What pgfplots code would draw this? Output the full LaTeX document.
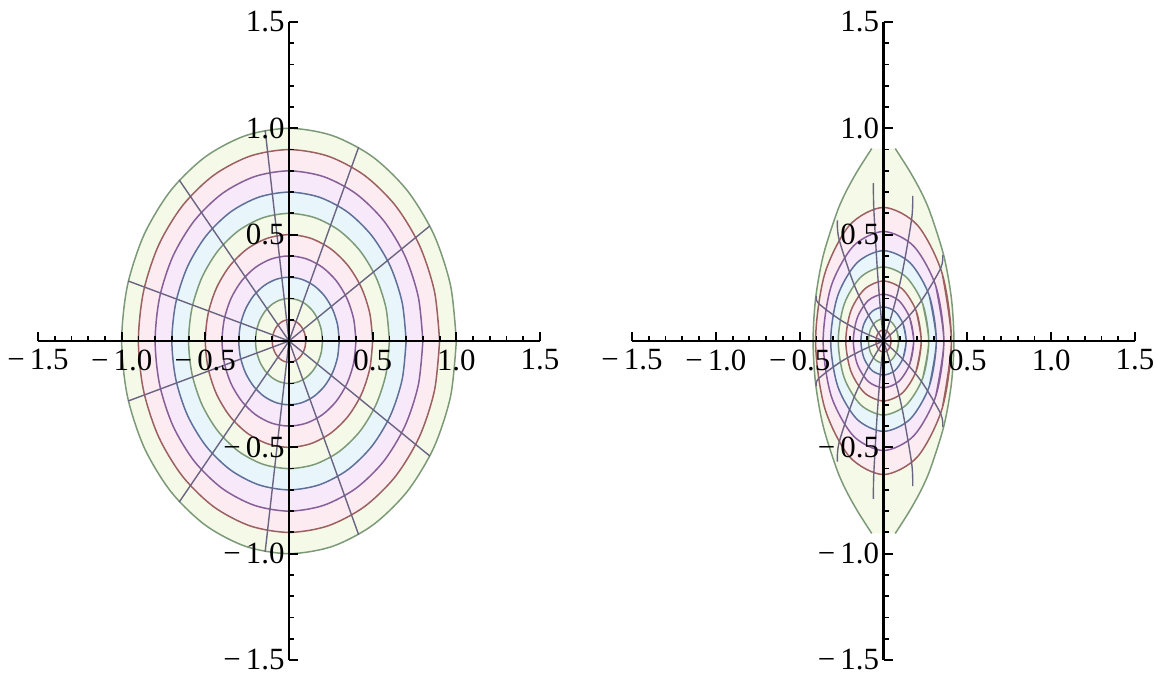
\documentclass[border=0pt]{standalone}
\usepackage{fontspec}
\setmainfont{Liberation Serif}
\usepackage{pgfplots}
\usepackage{pgfplotstable}
\pgfplotsset{compat=1.18}

% ring colours (line / pale fill)
\definecolor{lnG}{RGB}{124,154,120}
\definecolor{lnB}{RGB}{156,96,96}
\definecolor{lnP}{RGB}{134,94,152}
\definecolor{lnU}{RGB}{94,112,152}
\definecolor{fG}{RGB}{245,250,232}
\definecolor{fB}{RGB}{252,236,242}
\definecolor{fP}{RGB}{248,233,250}
\definecolor{fU}{RGB}{232,246,252}
\definecolor{spoke}{RGB}{106,100,130}

% circles r = 0.1 ... 1.0, angle in degrees (polar data)
\pgfplotstableread{
a   r1  r2  r3  r4  r5  r6  r7  r8  r9  r10
0   0.1 0.2 0.3 0.4 0.5 0.6 0.7 0.8 0.9 1.0
15  0.1 0.2 0.3 0.4 0.5 0.6 0.7 0.8 0.9 1.0
30  0.1 0.2 0.3 0.4 0.5 0.6 0.7 0.8 0.9 1.0
45  0.1 0.2 0.3 0.4 0.5 0.6 0.7 0.8 0.9 1.0
60  0.1 0.2 0.3 0.4 0.5 0.6 0.7 0.8 0.9 1.0
75  0.1 0.2 0.3 0.4 0.5 0.6 0.7 0.8 0.9 1.0
90  0.1 0.2 0.3 0.4 0.5 0.6 0.7 0.8 0.9 1.0
105 0.1 0.2 0.3 0.4 0.5 0.6 0.7 0.8 0.9 1.0
120 0.1 0.2 0.3 0.4 0.5 0.6 0.7 0.8 0.9 1.0
135 0.1 0.2 0.3 0.4 0.5 0.6 0.7 0.8 0.9 1.0
150 0.1 0.2 0.3 0.4 0.5 0.6 0.7 0.8 0.9 1.0
165 0.1 0.2 0.3 0.4 0.5 0.6 0.7 0.8 0.9 1.0
180 0.1 0.2 0.3 0.4 0.5 0.6 0.7 0.8 0.9 1.0
195 0.1 0.2 0.3 0.4 0.5 0.6 0.7 0.8 0.9 1.0
210 0.1 0.2 0.3 0.4 0.5 0.6 0.7 0.8 0.9 1.0
225 0.1 0.2 0.3 0.4 0.5 0.6 0.7 0.8 0.9 1.0
240 0.1 0.2 0.3 0.4 0.5 0.6 0.7 0.8 0.9 1.0
255 0.1 0.2 0.3 0.4 0.5 0.6 0.7 0.8 0.9 1.0
270 0.1 0.2 0.3 0.4 0.5 0.6 0.7 0.8 0.9 1.0
285 0.1 0.2 0.3 0.4 0.5 0.6 0.7 0.8 0.9 1.0
300 0.1 0.2 0.3 0.4 0.5 0.6 0.7 0.8 0.9 1.0
315 0.1 0.2 0.3 0.4 0.5 0.6 0.7 0.8 0.9 1.0
330 0.1 0.2 0.3 0.4 0.5 0.6 0.7 0.8 0.9 1.0
345 0.1 0.2 0.3 0.4 0.5 0.6 0.7 0.8 0.9 1.0
360 0.1 0.2 0.3 0.4 0.5 0.6 0.7 0.8 0.9 1.0
}\circles

\pgfplotsset{
  mathaxis/.style={
    scale only axis, width=502bp, height=638bp, anchor=south west,
    xmin=-1.5, xmax=1.5, ymin=-1.5, ymax=1.5,
    axis lines=middle,
    axis line style={-, line width=2.6bp, black},
    axis on top,
    tick align=inside,
    xtick={-1.5,-1,-0.5,0.5,1,1.5},
    ytick={-1.5,-1,-0.5,0.5,1,1.5},
    xticklabels={−\,1.5,−\,1.0,−\,0.5,0.5,1.0,1.5},
    yticklabels={−\,1.5,−\,1.0,−\,0.5,0.5,1.0,1.5},
    minor xtick={-1.4,-1.3,-1.2,-1.1,-0.9,-0.8,-0.7,-0.6,-0.4,-0.3,-0.2,-0.1,0.1,0.2,0.3,0.4,0.6,0.7,0.8,0.9,1.1,1.2,1.3,1.4},
    minor ytick={-1.4,-1.3,-1.2,-1.1,-0.9,-0.8,-0.7,-0.6,-0.4,-0.3,-0.2,-0.1,0.1,0.2,0.3,0.4,0.6,0.7,0.8,0.9,1.1,1.2,1.3,1.4},
    major tick length=9bp, minor tick length=5bp,
    every tick/.style={black, line width=1.8bp},
    tick label style={font=\fontsize{31}{31}\selectfont, black},
    xticklabel style={yshift=-5bp},
    yticklabel style={xshift=-1bp},
  },
  ring/.style={line width=1.5bp, smooth, line join=round},
}

\begin{document}
\begin{tikzpicture}
\path[use as bounding box] (0,0) rectangle (1158bp,682bp);

% ---------- left: polar grid in the unit disc ----------
\begin{axis}[mathaxis, at={(38bp,22bp)}]
\addplot[ring, draw=lnG, fill=fG, data cs=polar] table[x=a, y=r10] {\circles};
\addplot[ring, draw=lnB, fill=fB, data cs=polar] table[x=a, y=r9] {\circles};
\addplot[ring, draw=lnP, fill=fP, data cs=polar] table[x=a, y=r8] {\circles};
\addplot[ring, draw=lnU, fill=fU, data cs=polar] table[x=a, y=r7] {\circles};
\addplot[ring, draw=lnG, fill=fG, data cs=polar] table[x=a, y=r6] {\circles};
\addplot[ring, draw=lnB, fill=fB, data cs=polar] table[x=a, y=r5] {\circles};
\addplot[ring, draw=lnP, fill=fP, data cs=polar] table[x=a, y=r4] {\circles};
\addplot[ring, draw=lnU, fill=fU, data cs=polar] table[x=a, y=r3] {\circles};
\addplot[ring, draw=lnG, fill=fG, data cs=polar] table[x=a, y=r2] {\circles};
\addplot[ring, draw=lnB, fill=fB, data cs=polar] table[x=a, y=r1] {\circles};
% spokes
\addplot[spoke, line width=1.4bp, line join=round, data cs=polar] coordinates {
  (0,0) (0,1) (0,0) (32.73,1) (0,0) (65.45,1) (0,0) (98.18,1) (0,0) (130.91,1)
  (0,0) (163.64,1) (0,0) (196.36,1) (0,0) (229.09,1) (0,0) (261.82,1)
  (0,0) (294.55,1) (0,0) (327.27,1) (0,0)
};
\end{axis}

% ---------- right: image of the grid ----------
\begin{axis}[mathaxis, at={(632bp,22bp)}, width=503bp]
% lens (image of r = 1)
\addplot[draw=none, fill=fG] coordinates {
  (-0.07,0.905) (-0.155,0.8) (-0.225,0.7) (-0.28,0.6) (-0.36,0.4) (-0.405,0.2) (-0.42,0)
  (-0.405,-0.2) (-0.36,-0.4) (-0.28,-0.6) (-0.225,-0.7) (-0.155,-0.8) (-0.07,-0.905)
  (0.07,-0.905) (0.155,-0.8) (0.225,-0.7) (0.28,-0.6) (0.36,-0.4) (0.405,-0.2) (0.42,0)
  (0.405,0.2) (0.36,0.4) (0.28,0.6) (0.225,0.7) (0.155,0.8) (0.07,0.905)
};
\addplot[ring, draw=lnG] coordinates {
  (-0.07,0.905) (-0.155,0.8) (-0.225,0.7) (-0.28,0.6) (-0.36,0.4) (-0.405,0.2) (-0.42,0)
  (-0.405,-0.2) (-0.36,-0.4) (-0.28,-0.6) (-0.225,-0.7) (-0.155,-0.8) (-0.07,-0.905)
};
\addplot[ring, draw=lnG] coordinates {
  (0.07,-0.905) (0.155,-0.8) (0.225,-0.7) (0.28,-0.6) (0.36,-0.4) (0.405,-0.2) (0.42,0)
  (0.405,0.2) (0.36,0.4) (0.28,0.6) (0.225,0.7) (0.155,0.8) (0.07,0.905)
};
% r = 0.9
\addplot[ring, draw=lnB, fill=fB] coordinates {
  (0.351,-0.314) (0.405,0) (0.351,0.314) (0.203,0.544) (0,0.628) (-0.203,0.544) (-0.351,0.314) (-0.405,0)
  (-0.351,-0.314) (-0.203,-0.544) (0,-0.628) (0.203,-0.544) (0.351,-0.314) (0.405,0) (0.351,0.314)
};
% r = 0.8
\addplot[ring, draw=lnP, fill=fP] coordinates {
  (0.312,-0.258) (0.36,0) (0.312,0.258) (0.18,0.446) (0,0.515) (-0.18,0.446) (-0.312,0.258) (-0.36,0)
  (-0.312,-0.258) (-0.18,-0.446) (0,-0.515) (0.18,-0.446) (0.312,-0.258) (0.36,0) (0.312,0.258)
};
% r = 0.7
\addplot[ring, draw=lnU, fill=fU] coordinates {
  (0.273,-0.213) (0.315,0) (0.273,0.213) (0.158,0.368) (0,0.425) (-0.158,0.368) (-0.273,0.213) (-0.315,0)
  (-0.273,-0.213) (-0.158,-0.368) (0,-0.425) (0.158,-0.368) (0.273,-0.213) (0.315,0) (0.273,0.213)
};
% r = 0.6
\addplot[ring, draw=lnG, fill=fG] coordinates {
  (0.234,-0.174) (0.27,0) (0.234,0.174) (0.135,0.301) (0,0.348) (-0.135,0.301) (-0.234,0.174) (-0.27,0)
  (-0.234,-0.174) (-0.135,-0.301) (0,-0.348) (0.135,-0.301) (0.234,-0.174) (0.27,0) (0.234,0.174)
};
% r = 0.5
\addplot[ring, draw=lnB, fill=fB] coordinates {
  (0.195,-0.141) (0.225,0) (0.195,0.141) (0.113,0.244) (0,0.282) (-0.113,0.244) (-0.195,0.141) (-0.225,0)
  (-0.195,-0.141) (-0.113,-0.244) (0,-0.282) (0.113,-0.244) (0.195,-0.141) (0.225,0) (0.195,0.141)
};
% r = 0.4
\addplot[ring, draw=lnP, fill=fP] coordinates {
  (0.156,-0.11) (0.18,0) (0.156,0.11) (0.09,0.191) (0,0.22) (-0.09,0.191) (-0.156,0.11) (-0.18,0)
  (-0.156,-0.11) (-0.09,-0.191) (0,-0.22) (0.09,-0.191) (0.156,-0.11) (0.18,0) (0.156,0.11)
};
% r = 0.3
\addplot[ring, draw=lnU, fill=fU] coordinates {
  (0.117,-0.08) (0.135,0) (0.117,0.08) (0.068,0.139) (0,0.16) (-0.068,0.139) (-0.117,0.08) (-0.135,0)
  (-0.117,-0.08) (-0.068,-0.139) (0,-0.16) (0.068,-0.139) (0.117,-0.08) (0.135,0) (0.117,0.08)
};
% r = 0.2
\addplot[ring, draw=lnG, fill=fG] coordinates {
  (0.078,-0.053) (0.09,0) (0.078,0.053) (0.045,0.091) (0,0.105) (-0.045,0.091) (-0.078,0.053) (-0.09,0)
  (-0.078,-0.053) (-0.045,-0.091) (0,-0.105) (0.045,-0.091) (0.078,-0.053) (0.09,0) (0.078,0.053)
};
% r = 0.1
\addplot[ring, draw=lnB, fill=fB] coordinates {
  (0.039,-0.026) (0.045,0) (0.039,0.026) (0.023,0.045) (0,0.052) (-0.023,0.045) (-0.039,0.026) (-0.045,0)
  (-0.039,-0.026) (-0.023,-0.045) (0,-0.052) (0.023,-0.045) (0.039,-0.026) (0.045,0) (0.039,0.026)
};
% images of the spokes
\addplot[ring, draw=spoke, line width=1.4bp] coordinates {(0,0) (0.114,0.085) (0.227,0.191) (0.341,0.342) (0.353,0.405)};
\addplot[ring, draw=spoke, line width=1.4bp] coordinates {(0,0) (0.056,0.143) (0.112,0.322) (0.168,0.575) (0.174,0.682)};
\addplot[ring, draw=spoke, line width=1.4bp] coordinates {(0,0) (-0.019,0.155) (-0.038,0.350) (-0.058,0.626) (-0.060,0.742)};
\addplot[ring, draw=spoke, line width=1.4bp] coordinates {(0,0) (-0.088,0.119) (-0.177,0.268) (-0.265,0.478) (-0.275,0.567)};
\addplot[ring, draw=spoke, line width=1.4bp] coordinates {(0,0) (-0.130,0.044) (-0.259,0.100) (-0.389,0.178) (-0.400,0.211)};
\addplot[ring, draw=spoke, line width=1.4bp] coordinates {(0,0) (-0.130,-0.044) (-0.259,-0.100) (-0.389,-0.178) (-0.400,-0.211)};
\addplot[ring, draw=spoke, line width=1.4bp] coordinates {(0,0) (-0.088,-0.119) (-0.177,-0.268) (-0.265,-0.478) (-0.275,-0.567)};
\addplot[ring, draw=spoke, line width=1.4bp] coordinates {(0,0) (-0.019,-0.155) (-0.038,-0.350) (-0.058,-0.626) (-0.060,-0.742)};
\addplot[ring, draw=spoke, line width=1.4bp] coordinates {(0,0) (0.056,-0.143) (0.112,-0.322) (0.168,-0.575) (0.174,-0.682)};
\addplot[ring, draw=spoke, line width=1.4bp] coordinates {(0,0) (0.114,-0.085) (0.227,-0.191) (0.341,-0.342) (0.353,-0.405)};
\end{axis}
\end{tikzpicture}
\end{document}
